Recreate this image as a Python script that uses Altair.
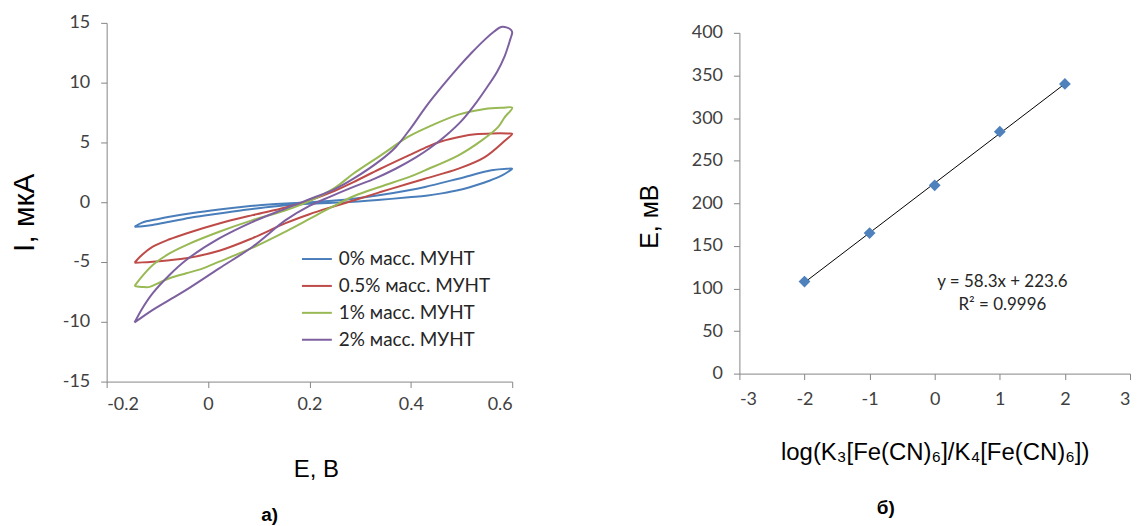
import altair as alt
import pandas as pd

# ---------------- data: cyclic voltammograms (panel a) ----------------
series_names = ["0% масс. МУНТ", "0.5% масс. МУНТ", "1% масс. МУНТ", "2% масс. МУНТ"]
series_colors = ["#4A7EBB", "#BE4B48", "#98B954", "#7D60A0"]

E_0 = [-0.145, -0.13, -0.1, -0.076, -0.03, 0.022, 0.07, 0.12, 0.18, 0.25, 0.287, 0.34, 0.396, 0.428,
       0.494, 0.559, 0.59, 0.6, 0.592, 0.579, 0.555, 0.527, 0.495, 0.461, 0.43, 0.396, 0.34, 0.287,
       0.2, 0.173, 0.12, 0.07, 0.022, -0.03, -0.076, -0.11, -0.145]
I_0 = [-2.06, -1.7, -1.42, -1.22, -0.9, -0.61, -0.38, -0.19, -0.05, 0.15, 0.3, 0.6, 1.0, 1.28,
       1.97, 2.67, 2.8, 2.8, 2.55, 2.22, 1.8, 1.4, 1.02, 0.74, 0.55, 0.42, 0.2, 0.03,
       -0.12, -0.2, -0.39, -0.65, -0.94, -1.25, -1.64, -1.9, -2.06]

E_1 = [-0.145, -0.13, -0.109, -0.076, -0.043, 0.022, 0.088, 0.153, 0.2, 0.25, 0.287, 0.34, 0.396,
       0.428, 0.461, 0.5, 0.527, 0.56, 0.59, 0.6, 0.586, 0.546, 0.494, 0.428, 0.396, 0.34, 0.287,
       0.24, 0.2, 0.153, 0.088, 0.022, -0.043, -0.076, -0.109, -0.13, -0.145]
I_1 = [-5.06, -4.4, -3.72, -3.1, -2.61, -1.78, -1.08, -0.44, 0.15, 0.95, 1.69, 2.8, 3.92,
       4.55, 5.1, 5.5, 5.68, 5.75, 5.75, 5.72, 5.17, 3.78, 2.81, 1.97, 1.56, 0.85, 0.15,
       -0.45, -1.0, -1.75, -3.0, -4.06, -4.69, -4.85, -4.97, -5.03, -5.06]

E_2 = [-0.145, -0.13, -0.109, -0.076, -0.043, 0.022, 0.088, 0.153, 0.2, 0.25, 0.287, 0.34, 0.396,
       0.44, 0.494, 0.546, 0.58, 0.6, 0.585, 0.572, 0.54, 0.494, 0.428, 0.396, 0.34, 0.287, 0.24,
       0.2, 0.153, 0.088, 0.022, -0.01, -0.043, -0.076, -0.1, -0.115, -0.13, -0.145]
I_2 = [-7.0, -6.2, -5.25, -4.28, -3.58, -2.47, -1.5, -0.67, 0.1, 1.2, 2.4, 3.9, 5.5,
       6.4, 7.33, 7.8, 7.9, 7.9, 7.1, 6.28, 5.17, 3.92, 2.67, 2.1, 1.3, 0.5, -0.5,
       -1.4, -2.45, -3.8, -4.97, -5.53, -5.94, -6.36, -6.8, -7.08, -7.08, -7.0]

E_3 = [-0.145, -0.13, -0.109, -0.076, -0.043, 0.022, 0.088, 0.153, 0.2, 0.25, 0.287, 0.34, 0.37,
       0.4, 0.43, 0.46, 0.494, 0.52, 0.546, 0.565, 0.578, 0.59, 0.598, 0.6, 0.596, 0.585, 0.57,
       0.55, 0.525, 0.5, 0.47, 0.44, 0.41, 0.37, 0.33, 0.287, 0.24, 0.2, 0.153, 0.088, 0.022,
       -0.043, -0.076, -0.109, -0.145]
I_3 = [-10.06, -8.9, -7.6, -6.08, -4.83, -3.03, -1.64, -0.53, 0.25, 1.1, 1.97, 3.5, 4.6,
       6.2, 8.0, 9.6, 11.3, 12.5, 13.6, 14.3, 14.65, 14.6, 14.4, 14.2, 13.6, 12.2, 10.9,
       9.6, 8.1, 6.8, 5.6, 4.6, 3.75, 2.8, 2.0, 1.28, 0.45, -0.3, -1.5, -3.72, -5.53,
       -7.33, -8.17, -9.0, -10.06]

E_ticks = [-0.2, 0, 0.2, 0.4, 0.6]
I_ticks = [-15, -10, -5, 0, 5, 10, 15]

# ---------------- data: Nernst plot (panel b) ----------------
log_ratio = [-2, -1, 0, 1, 2]
potential_mV = [108, 165, 221, 284, 340]
log_ticks = [-3, -2, -1, 0, 1, 2, 3]
mV_ticks = [0, 50, 100, 150, 200, 250, 300, 350, 400]
equation_text = "y = 58.3x + 223.6"
r2_text = "R² = 0.9996"

rows = []
for name, Es, Is in zip(series_names, [E_0, E_1, E_2, E_3], [I_0, I_1, I_2, I_3]):
    for k, (e, i) in enumerate(zip(Es, Is)):
        rows.append({"series": name, "idx": k, "E": e, "I": i})
cv = pd.DataFrame(rows)
nernst = pd.DataFrame({"x": log_ratio, "y": potential_mV})

TITLE_FONT = "Liberation Sans"
LABEL_FONT = "Lato"
AX_COLOR = "#868686"
LBL_COLOR = "#404040"
lbl_expr = "'' + datum.value"

common_axis = dict(grid=False, domainColor=AX_COLOR, tickColor=AX_COLOR, tickSize=6,
                   labelFont=LABEL_FONT, labelFontSize=18, labelColor=LBL_COLOR,
                   titleFont=TITLE_FONT, titleColor="black", titleFontWeight="normal",
                   labelExpr=lbl_expr)

# ---------------- panel a ----------------
left = alt.Chart(cv).mark_line(strokeWidth=2, interpolate="catmull-rom").encode(
    x=alt.X("E:Q", scale=alt.Scale(domain=[-0.2, 0.6], nice=False, zero=False),
            axis=alt.Axis(values=E_ticks, title="E, В", titleFontSize=24,
                          titleX=210, titleY=88, titleBaseline="middle", titleAlign="center",
                          labelPadding=8, **common_axis)),
    y=alt.Y("I:Q", scale=alt.Scale(domain=[-15, 15], nice=False, zero=False),
            axis=alt.Axis(values=I_ticks, title="I, мкА", titleFontSize=30,
                          titleX=-82, titleY=190, titleAngle=270, titleBaseline="middle",
                          titleAlign="center", labelPadding=11, **common_axis)),
    color=alt.Color("series:N", scale=alt.Scale(domain=series_names, range=series_colors),
                    legend=alt.Legend(orient="none", legendX=195, legendY=221, title=None,
                                      symbolType="stroke", symbolSize=900, symbolStrokeWidth=2,
                                      labelFont=LABEL_FONT, labelFontSize=19, labelColor="#262626",
                                      rowPadding=1, labelOffset=6, padding=0)),
    order=alt.Order("idx:Q"),
).properties(
    width=407, height=360,
    title=alt.TitleParams("а)", orient="bottom", anchor="middle", frame="group", dx=-40,
                          offset=25, fontSize=19, fontWeight="bold", font=TITLE_FONT, color="black"),
)

# ---------------- panel b ----------------
xb = alt.X("x:Q", scale=alt.Scale(domain=[-3, 3], nice=False, zero=False),
           axis=alt.Axis(values=log_ticks, title="log(K₃[Fe(CN)₆]/K₄[Fe(CN)₆])", titleFontSize=24,
                         titleX=196, titleY=79, titleBaseline="middle", titleAlign="center",
                         labelPadding=11, **common_axis))
yb = alt.Y("y:Q", scale=alt.Scale(domain=[0, 400], nice=False, zero=False),
           axis=alt.Axis(values=mV_ticks, title="E, мВ", titleFontSize=25,
                         titleX=-90, titleY=184, titleAngle=270, titleBaseline="middle",
                         titleAlign="center", labelPadding=11, **common_axis))

base_b = alt.Chart(nernst)
trend = base_b.transform_regression("x", "y", extent=[-2, 2]).mark_line(
    color="black", strokeWidth=1).encode(x=xb, y=yb)
pts = base_b.mark_point(shape="diamond", filled=True, size=140, color="#4F81BD", opacity=1).encode(
    x=xb, y=yb)
eq1 = alt.Chart(pd.DataFrame({"label": [equation_text]})).mark_text(
    font=LABEL_FONT, fontSize=17, fontWeight="normal", color="#262626").encode(
    text="label:N", x=alt.datum(1.04), y=alt.datum(108))
eq2 = alt.Chart(pd.DataFrame({"label": [r2_text]})).mark_text(
    font=LABEL_FONT, fontSize=17, fontWeight="normal", color="#262626").encode(
    text="label:N", x=alt.datum(1.04), y=alt.datum(80))

right = alt.layer(trend, pts, eq1, eq2).properties(
    width=392, height=342,
    title=alt.TitleParams("б)", orient="bottom", anchor="middle", frame="group", dx=-49,
                          offset=35, fontSize=19, fontWeight="bold", font=TITLE_FONT, color="black"),
)

# thin invisible row that pushes panel b down relative to panel a
spacer = alt.Chart(pd.DataFrame({"k": [0]})).mark_rule(strokeOpacity=0).encode(
    x=alt.value(0), y=alt.value(0), y2=alt.value(1)).properties(width=392, height=1)
right_col = alt.vconcat(spacer, right, spacing=0)

chart = alt.hconcat(left, right_col, spacing=121).properties(
    padding={"left": 2, "top": 5, "right": 0, "bottom": 0},
    background="white",
).configure_view(stroke=None)

chart.save("out.html", embed_options={"renderer": "svg", "actions": False})
